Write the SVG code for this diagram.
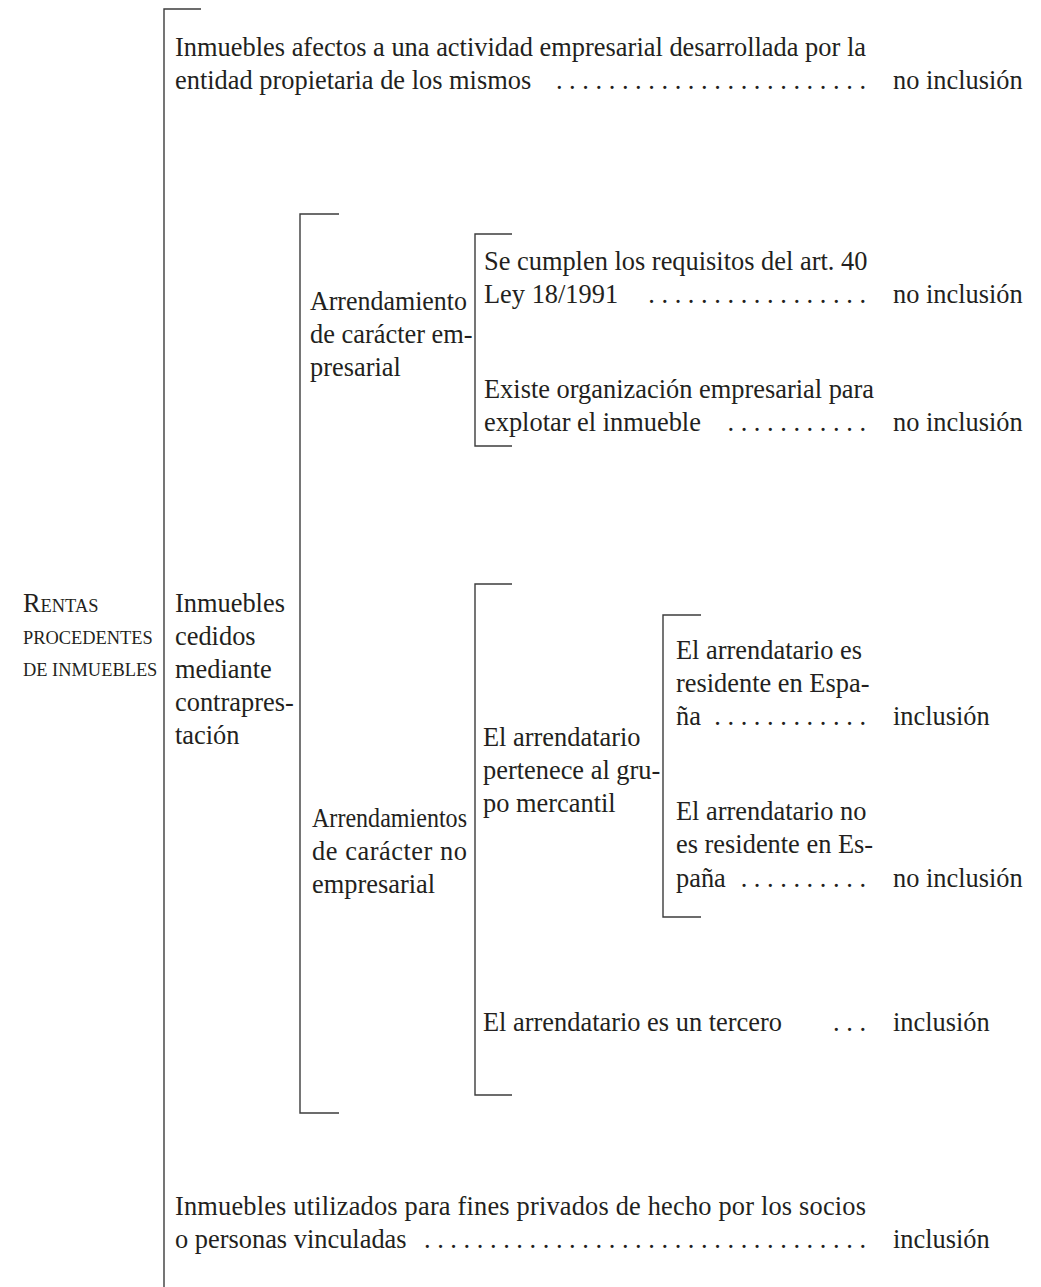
<svg xmlns="http://www.w3.org/2000/svg" width="1041" height="1287" viewBox="0 0 1041 1287">
<style>
text{font-family:"Liberation Serif","Times New Roman",serif;font-size:26.4px;fill:#231f20}
.sc{font-size:18.4px}
.br{fill:none;stroke:#3c3c3c;stroke-width:1.4}
.dots{text-anchor:end}
</style>
<rect width="1041" height="1287" fill="#fff"/>
<g id="connectors">
<path class="br" d="M201,9 H164 V1287"/>
<path class="br" d="M339,214 H300 V1113 H339"/>
<path class="br" d="M512,234 H475 V446 H512"/>
<path class="br" d="M512,584 H475 V1095 H512"/>
<path class="br" d="M701,615 H663 V917 H701"/>
</g>
<g id="root">
<text x="23" y="612">R<tspan class="sc">ENTAS</tspan></text>
<text x="23" y="644" class="sc">PROCEDENTES</text>
<text x="23" y="676" class="sc">DE INMUEBLES</text>
</g>
<g id="n-afectos">
<text x="175" y="56" textLength="691" lengthAdjust="spacing">Inmuebles afectos a una actividad empresarial desarrollada por la</text>
<text x="175" y="89">entidad propietaria de los mismos</text>
<text x="866" y="89" class="dots">. . . . . . . . . . . . . . . . . . . . . . . .</text>
<text x="893" y="89">no inclusión</text>
</g>
<g id="n-cedidos">
<text x="175" y="612">Inmuebles</text>
<text x="175" y="645">cedidos</text>
<text x="175" y="678">mediante</text>
<text x="175" y="711">contrapres-</text>
<text x="175" y="744">tación</text>
</g>
<g id="n-empresarial">
<text x="310" y="310" textLength="157" lengthAdjust="spacingAndGlyphs">Arrendamiento</text>
<text x="310" y="343">de carácter em-</text>
<text x="310" y="376">presarial</text>
</g>
<g id="n-requisitos">
<text x="484" y="270">Se cumplen los requisitos del art. 40</text>
<text x="484" y="303">Ley 18/1991</text>
<text x="866" y="303" class="dots">. . . . . . . . . . . . . . . . .</text>
<text x="893" y="303">no inclusión</text>
</g>
<g id="n-organizacion">
<text x="484" y="398">Existe organización empresarial para</text>
<text x="484" y="431">explotar el inmueble</text>
<text x="866" y="431" class="dots">. . . . . . . . . . .</text>
<text x="893" y="431">no inclusión</text>
</g>
<g id="n-noempresarial">
<text x="312" y="827" textLength="155" lengthAdjust="spacingAndGlyphs">Arrendamientos</text>
<text x="312" y="860" textLength="155" lengthAdjust="spacing">de carácter no</text>
<text x="312" y="893">empresarial</text>
</g>
<g id="n-grupo">
<text x="483" y="746">El arrendatario</text>
<text x="483" y="779">pertenece al gru-</text>
<text x="483" y="812">po mercantil</text>
</g>
<g id="n-residente">
<text x="676" y="659">El arrendatario es</text>
<text x="676" y="692">residente en Espa-</text>
<text x="676" y="725">ña</text>
<text x="866" y="725" class="dots">. . . . . . . . . . . .</text>
<text x="893" y="725">inclusión</text>
</g>
<g id="n-noresidente">
<text x="676" y="820">El arrendatario no</text>
<text x="676" y="853">es residente en Es-</text>
<text x="676" y="887">paña</text>
<text x="866" y="887" class="dots">. . . . . . . . . .</text>
<text x="893" y="887">no inclusión</text>
</g>
<g id="n-tercero">
<text x="483" y="1031">El arrendatario es un tercero</text>
<text x="866" y="1031" class="dots">. . .</text>
<text x="893" y="1031">inclusión</text>
</g>
<g id="n-privados">
<text x="175" y="1215" textLength="691" lengthAdjust="spacing">Inmuebles utilizados para fines privados de hecho por los socios</text>
<text x="175" y="1248">o personas vinculadas</text>
<text x="866" y="1248" class="dots">. . . . . . . . . . . . . . . . . . . . . . . . . . . . . . . . . .</text>
<text x="893" y="1248">inclusión</text>
</g>
</svg>
